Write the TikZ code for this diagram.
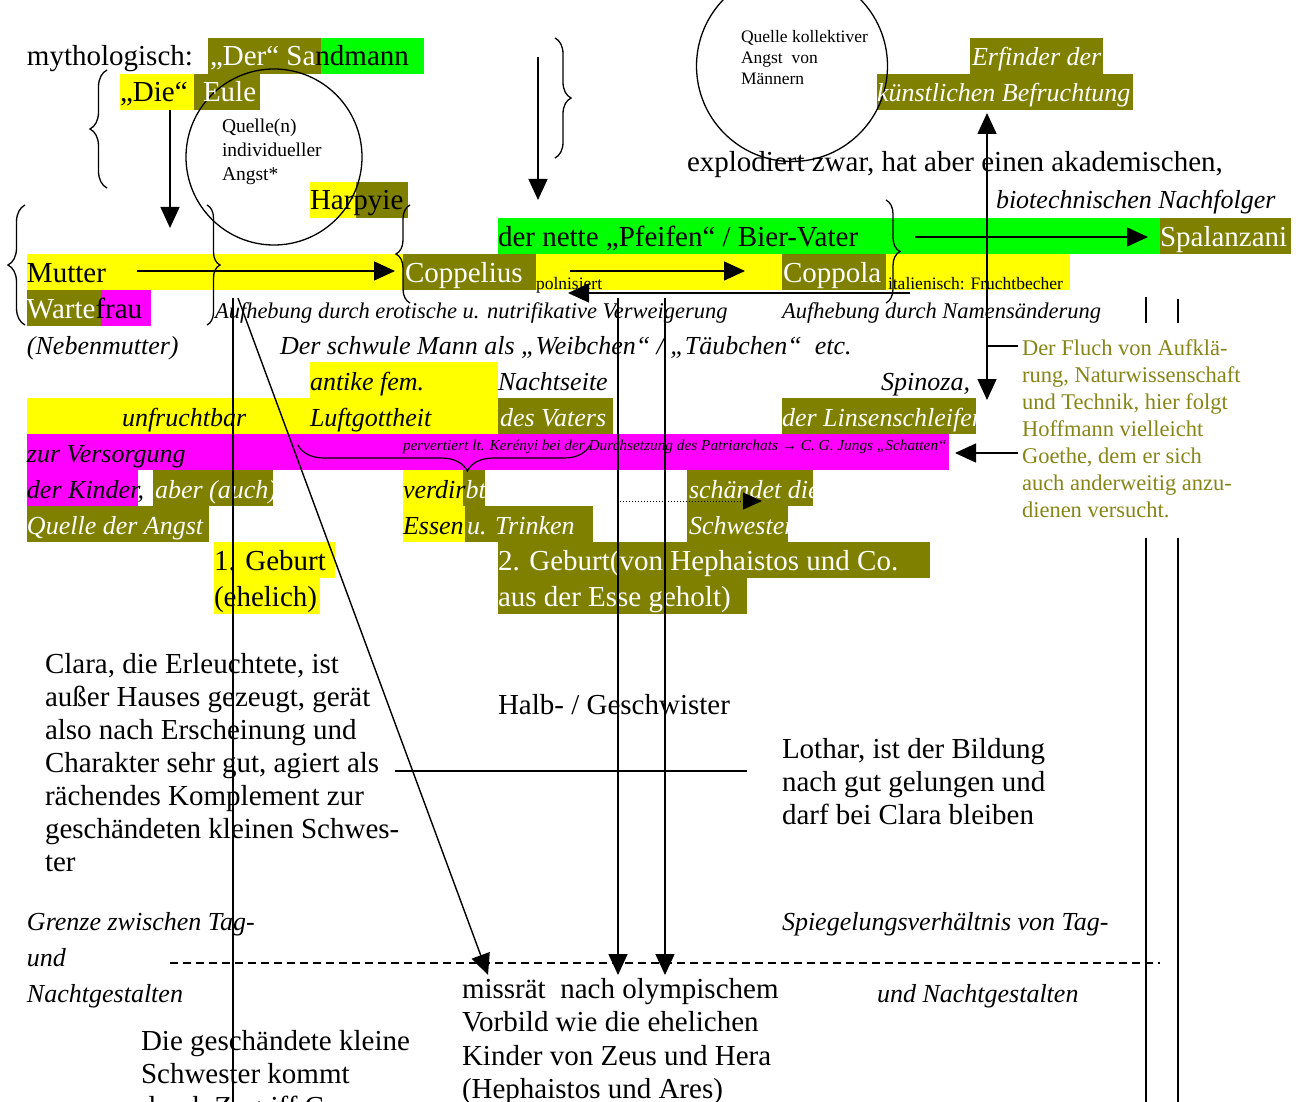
\documentclass[tikz,border=0pt]{standalone}
\usepackage{fontspec}
\setmainfont{Liberation Serif}
\usetikzlibrary{arrows.meta,decorations.pathreplacing,backgrounds}
\definecolor{oliv}{RGB}{128,128,0}
\definecolor{yel}{RGB}{255,255,0}
\definecolor{grn}{RGB}{0,255,0}
\definecolor{mag}{RGB}{255,0,255}
\definecolor{fluchc}{RGB}{134,134,24}
\begin{document}
\begin{tikzpicture}[x=1pt,y=-1pt,
  base/.style={anchor=base west, inner sep=0pt, outer sep=0pt},
  tL/.style={base, font=\fontsize{29}{33}\selectfont},
  tI/.style={base, font=\fontsize{26}{36}\selectfont\itshape},
  tA/.style={base, font=\fontsize{22.5}{27}\selectfont\itshape},
  tF/.style={base, text=fluchc, font=\fontsize{22.5}{27}\selectfont},
  tC/.style={base, font=\fontsize{19.5}{24}\selectfont},
  tQ/.style={base, font=\fontsize{17.5}{21}\selectfont},
  tS/.style={base, font=\fontsize{17.5}{20}\selectfont},
  tT/.style={base, font=\fontsize{15.3}{20}\selectfont\itshape},
  wh/.style={text=white},
  arr/.style={line width=1.4pt, -{Triangle[width=19pt,length=21pt]}},
  darr/.style={line width=1.4pt, {Triangle[width=19pt,length=21pt]}-{Triangle[width=19pt,length=21pt]}},
  ln/.style={line width=1.4pt},
  brc/.style={line width=1.3pt, decorate, decoration={brace, amplitude=#1}},
  ring/.style={circle, draw, line width=1.3pt, inner sep=0pt}
]
\useasboundingbox (0,0) rectangle (1303,1102);
\clip (0,0) rectangle (1303,1102);

\begin{pgfonlayer}{background}
\fill[white] (0,0) rectangle (1303,1102);
\fill[oliv] (208,38) rectangle (321,74);
\fill[grn] (321,38) rectangle (424,74);
\fill[yel] (120,74) rectangle (194,110);
\fill[oliv] (194,74) rectangle (260,110);
\fill[oliv] (970,38) rectangle (1103,74);
\fill[oliv] (877,74) rectangle (1133,110);
\fill[yel] (310,182) rectangle (356,218);
\fill[oliv] (356,182) rectangle (408,218);
\fill[grn] (498,218) rectangle (1160,254);
\fill[oliv] (1160,218) rectangle (1291,254);
\fill[yel] (27,254) rectangle (403,290);
\fill[oliv] (403,254) rectangle (536,290);
\fill[yel] (536,254) rectangle (782,290);
\fill[oliv] (782,254) rectangle (886,290);
\fill[yel] (886,254) rectangle (1070,290);
\fill[oliv] (27,290) rectangle (101,326);
\fill[mag] (101,290) rectangle (151,326);
\fill[yel] (310,362) rectangle (498,434);
\fill[yel] (27,398) rectangle (310,434);
\fill[oliv] (498,398) rectangle (613,434);
\fill[oliv] (782,398) rectangle (976,434);
\fill[mag] (27,434) rectangle (949,470);
\fill[mag] (27,470) rectangle (138,506);
\fill[oliv] (153,470) rectangle (273,506);
\fill[oliv] (27,506) rectangle (209,542);
\fill[yel] (403,470) rectangle (463,506);
\fill[oliv] (463,470) rectangle (485,506);
\fill[yel] (403,506) rectangle (465,542);
\fill[oliv] (465,506) rectangle (593,542);
\fill[oliv] (687,470) rectangle (813,506);
\fill[oliv] (687,506) rectangle (788,542);
\fill[yel] (214,542) rectangle (335,578);
\fill[yel] (214,578) rectangle (320,614);
\fill[oliv] (498,542) rectangle (930,578);
\fill[oliv] (498,578) rectangle (747,614);
\end{pgfonlayer}

% circles
\node[ring, minimum size=176pt] (c1) at (274,157) {};
\node[ring, minimum size=191pt] (c2) at (792,66) {};
\node[tC] (c1a) at (222,133) {Quelle(n)};
\node[tC] (c1b) at (222,157) {individueller};
\node[tC] (c1c) at (222,181) {Angst*};
\node[tQ] (c2a) at (741,43) {Quelle kollektiver};
\node[tQ] (c2b) at (741,64) {Angst\ \ von};
\node[tQ] (c2c) at (741,85) {Männern};

% top rows
\node[tL] (myth) at (27,66) {mythologisch:};
\node[tL,wh] (der) at (210,66) {„Der“ Sa};
\node[tL] (sand) at (der.base east) {ndmann};
\node[tL] (die) at (120,102) {„Die“};
\node[tL,wh] (eule) at (203,102) {Eule};
\node[tI,wh] (erf) at (972,66) {Erfinder der};
\node[tI,wh] (kuen) at (877,102) {künstlichen Befruchtung};
\node[tL] (expl) at (687,172) {explodiert zwar, hat aber einen akademischen,};
\node[tI] (biot) at (996,208) {biotechnischen Nachfolger};
\node[tL] (har) at (310,210) {Har};
\node[tL] (pyie) at (har.base east) {pyie};
\node[tL] (vater) at (498,246) {der nette „Pfeifen“ / Bier-Vater};
\node[tL,wh] (spal) at (1160,246) {Spalanzani};
\node[tL] (mutter) at (27,282) {Mutter};
\node[tL,wh] (coppelius) at (405,282) {Coppelius};
\node[tS] (poln) at (536,289) {polnisiert};
\node[tL,wh] (coppola) at (783,282) {Coppola};
\node[tS] (ital) at (888,289) {italienisch: Fruchtbecher};
\node[tL,wh] (warte) at (27,318) {Warte};
\node[tL] (frau) at (warte.base east) {frau};
\node[tA] (aufh1) at (215,318) {Aufhebung durch erotische u. nutrifikative Verweigerung};
\node[tA] (aufh2) at (782,318) {Aufhebung durch Namensänderung};
\node[tI] (neben) at (27,354) {(Nebenmutter)};
\node[tI] (schwul) at (280,354) {Der schwule Mann als „Weibchen“ / „Täubchen“\ \ etc.};
\node[tI] (antike) at (310,390) {antike fem.};
\node[tI] (nacht) at (498,390) {Nachtseite};
\node[tI,anchor=base east] (spin) at (970,390) {Spinoza,};
\node[tI] (unfr) at (122,426) {unfruchtbar};
\node[tI] (luft) at (310,426) {Luftgottheit};
\node[tI,wh] (desv) at (500,426) {des Vaters};
\node[tI,wh] (linsen) at (782,426) {der Linsenschleifer};
\node[tI] (zur) at (27,462) {zur Versorgung};
\node[tT] (perv) at (403,450) {pervertiert lt. Kerényi bei der Durchsetzung des Patriarchats {\upshape→} C. G. Jungs „Schatten“};
\node[tI] (kinder) at (27,498) {der Kinder,};
\node[tI,wh] (aber) at (155,498) {aber (auch)};
\node[tI,wh] (quelle) at (27,534) {Quelle der Angst};
\node[tI] (verdir) at (403,498) {verdir};
\node[tI,wh] (bt) at (verdir.base east) {bt};
\node[tI] (essen) at (403,534) {Essen};
\node[tI,wh] (trink) at (467,534) {u. Trinken};
\node[tI,wh] (schae) at (689,498) {schändet die};
\node[tI,wh] (schw) at (689,534) {Schwester};
\node[tL] (geb1) at (214,570) {1. Geburt};
\node[tL] (ehel) at (214,606) {(ehelich)};
\node[tL,wh] (geb2) at (498,570) {2. Geburt(von Hephaistos und Co.};
\node[tL,wh] (esse) at (498,606) {aus der Esse geholt)};

% Der Fluch
\node[tF] (fl1) at (1022,355) {Der Fluch von Aufklä-};
\node[tF] (fl2) at (1022,382) {rung, Naturwissenschaft};
\node[tF] (fl3) at (1022,409) {und Technik, hier folgt};
\node[tF] (fl4) at (1022,436) {Hoffmann vielleicht};
\node[tF] (fl5) at (1022,463) {Goethe, dem er sich};
\node[tF] (fl6) at (1022,490) {auch anderweitig anzu-};
\node[tF] (fl7) at (1022,517) {dienen versucht.};

% lower texts
\node[tL] (cl1) at (45,673) {Clara, die Erleuchtete, ist};
\node[tL] (cl2) at (45,706) {außer Hauses gezeugt, gerät};
\node[tL] (cl3) at (45,739) {also nach Erscheinung und};
\node[tL] (cl4) at (45,772) {Charakter sehr gut, agiert als};
\node[tL] (cl5) at (45,805) {rächendes Komplement zur};
\node[tL] (cl6) at (45,838) {geschändeten kleinen Schwes-};
\node[tL] (cl7) at (45,871) {ter};
\node[tL] (halb) at (498,714) {Halb- / Geschwister};
\node[tL] (lo1) at (782,758) {Lothar, ist der Bildung};
\node[tL] (lo2) at (782,791) {nach gut gelungen und};
\node[tL] (lo3) at (782,824) {darf bei Clara bleiben};
\node[tI] (gr1) at (27,930) {Grenze zwischen Tag-};
\node[tI] (gr2) at (27,966) {und};
\node[tI] (gr3) at (27,1002) {Nachtgestalten};
\node[tI] (sp1) at (782,930) {Spiegelungsverhältnis von Tag-};
\node[tI] (sp2) at (877,1002) {und Nachtgestalten};
\node[tL] (mi1) at (462,998) {missrät\ \ nach olympischem};
\node[tL] (mi2) at (462,1031) {Vorbild wie die ehelichen};
\node[tL] (mi3) at (462,1065) {Kinder von Zeus und Hera};
\node[tL] (mi4) at (462,1098) {(Hephaistos und Ares)};
\node[tL] (ge1) at (141,1050) {Die geschändete kleine};
\node[tL] (ge2) at (141,1083) {Schwester kommt};
\node[tL] (ge3) at (141,1116) {durch Zugriff C};

% braces
\draw[brc=17] (107,188) -- (107,70);
\draw[brc=16] (555,38) -- (555,158);
\draw[brc=17] (25,325) -- (25,205);
\draw[brc=13] (207,205) -- (207,325);
\draw[brc=14] (410,303) -- (410,205);
\draw[brc=14] (886,200) -- (886,303);
\draw[line width=1.2pt, decorate, decoration={brace, amplitude=26, aspect=0.42}] (590,445) -- (298,445);

% coordinates
\coordinate (eA) at (170,110);  \coordinate (eB) at (170,228);
\coordinate (sA) at (538,57);   \coordinate (sB) at (538,200);
\coordinate (mA) at (137,271);  \coordinate (mB) at (395,271);
\coordinate (pA) at (570,271);  \coordinate (pB) at (745,271);
\coordinate (rA) at (910,293);  \coordinate (rB) at (568,293);
\coordinate (vA) at (915,237);  \coordinate (vB) at (1148,237);
\coordinate (kA) at (987,400);  \coordinate (kB) at (987,113);
\coordinate (kC) at (987,346);  \coordinate (kD) at (1018,346);
\coordinate (fA) at (1018,453); \coordinate (fB) at (955,453);
\coordinate (lA) at (233,298);  \coordinate (lB) at (233,1110);
\coordinate (dA) at (238,298);  \coordinate (dB) at (488,975);
\coordinate (oA) at (618,298);  \coordinate (oB) at (618,975);
\coordinate (qA) at (665,298);  \coordinate (qB) at (665,975);
\coordinate (tA) at (620,501);  \coordinate (tB) at (762,501);
\coordinate (hA) at (395,771);  \coordinate (hB) at (747,771);
\coordinate (gA) at (170,963);  \coordinate (gB) at (1160,963);
\coordinate (b1) at (1146,297); \coordinate (b2) at (1146,323);
\coordinate (b3) at (1178,299); \coordinate (b4) at (1178,323);
\coordinate (b5) at (1146,538); \coordinate (b6) at (1146,1110);
\coordinate (b7) at (1178,538); \coordinate (b8) at (1178,1110);

% connectors
\draw[arr] (eA) -- (eB);
\draw[arr] (sA) -- (sB);
\draw[arr] (mA) -- (mB);
\draw[arr] (pA) -- (pB);
\draw[arr] (rA) -- (rB);
\draw[arr] (vA) -- (vB);
\draw[darr] (kA) -- (kB);
\draw[ln] (kC) -- (kD);
\draw[arr] (fA) -- (fB);
\draw[ln] (lA) -- (lB);
\draw[arr] (dA) -- (dB);
\draw[arr] (oA) -- (oB);
\draw[arr] (qA) -- (qB);
\draw[line width=1pt, dotted, -{Triangle[width=17pt,length=19pt]}] (tA) -- (tB);
\draw[ln] (hA) -- (hB);
\draw[line width=1.3pt, dash pattern=on 8pt off 5pt] (gA) -- (gB);
\draw[ln] (b1) -- (b2);
\draw[ln] (b3) -- (b4);
\draw[ln] (b5) -- (b6);
\draw[ln] (b7) -- (b8);
\end{tikzpicture}
\end{document}
